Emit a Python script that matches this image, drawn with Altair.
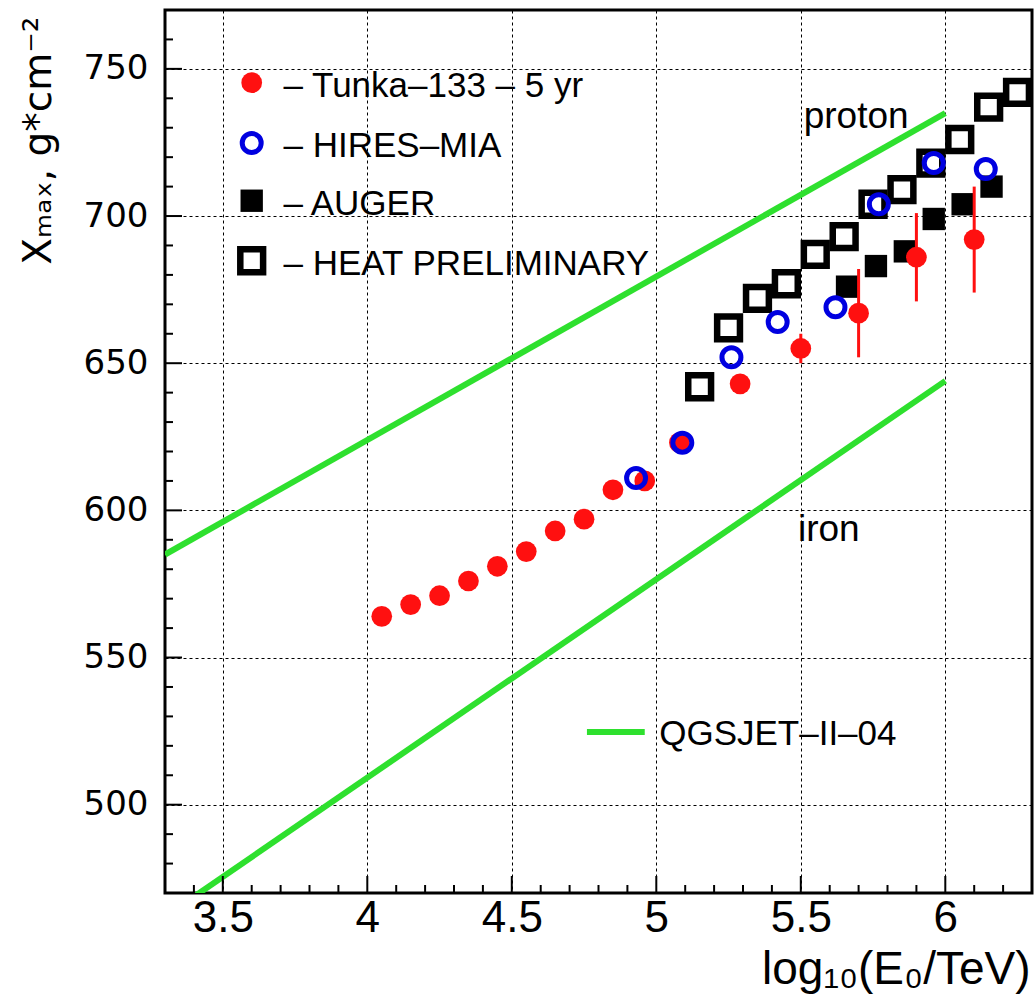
import altair as alt
import pandas as pd

# ---- data ----
tunka_x = [4.05, 4.15, 4.25, 4.35, 4.45, 4.55, 4.65, 4.75, 4.85, 4.96, 5.08, 5.29, 5.50, 5.70, 5.90, 6.10]
tunka_y = [564, 568, 571, 576, 581, 586, 593, 597, 607, 610, 623, 643, 655, 667, 686, 692]
tunka_err = [0, 0, 0, 0, 0, 0, 0, 0, 0, 0, 0, 3, 5, 15, 15, 18]

hires_x = [4.93, 5.09, 5.26, 5.42, 5.62, 5.77, 5.96, 6.14]
hires_y = [611, 623, 652, 664, 669, 704, 718, 716]

auger_x = [5.66, 5.76, 5.86, 5.96, 6.06, 6.16]
auger_y = [676, 683, 688, 699, 704, 710]

heat_x = [5.15, 5.25, 5.35, 5.45, 5.55, 5.65, 5.75, 5.85, 5.95, 6.05, 6.15, 6.25]
heat_y = [642, 662, 672, 677, 687, 693, 704, 709, 718, 726, 737, 742]

proton_x = [3.3, 6.0]
proton_y = [585, 735]
iron_x = [3.3, 6.0]
iron_y = [462, 644]

x_major = [3.5, 4.0, 4.5, 5.0, 5.5, 6.0]
x_minor = [3.4, 3.6, 3.7, 3.8, 3.9, 4.1, 4.2, 4.3, 4.4, 4.6, 4.7, 4.8, 4.9,
           5.1, 5.2, 5.3, 5.4, 5.6, 5.7, 5.8, 5.9, 6.1, 6.2]
y_major = [500, 550, 600, 650, 700, 750]
y_minor = [480, 490, 510, 520, 530, 540, 560, 570, 580, 590, 610, 620, 630, 640,
           660, 670, 680, 690, 710, 720, 730, 740, 760]

legend_labels = ["– Tunka–133 – 5 yr", "– HIRES–MIA", "– AUGER", "– HEAT PRELIMINARY"]

XDOM = [3.3, 6.3]
YDOM = [470, 770]
W, H = 867, 883
RED = "#ff1010"
BLUE = "#0000e0"
GREEN = "#2ee02e"
FONT = "Liberation Sans"

xs = alt.Scale(domain=XDOM, nice=False, zero=False)
ys = alt.Scale(domain=YDOM, nice=False, zero=False)

XAX = alt.Axis(
    values=x_major, format=".1~f", grid=True, gridDash=[3, 3], gridColor="black", gridWidth=1,
    gridOpacity=1, domain=False, ticks=False, tickSize=0, labelFont=FONT, labelFontSize=44,
    labelColor="black", labelPadding=3, labelFlush=False,
    title="log₁₀(E₀/TeV)", titleFont=FONT, titleFontSize=46, titleFontWeight="normal",
    titleColor="black", titleAnchor="end", titleAlign="right", titleX=W - 2, titleY=90,
    titleBaseline="alphabetic")
YAX = alt.Axis(
    values=y_major, grid=True, gridDash=[3, 3], gridColor="black", gridWidth=1, gridOpacity=1,
    domain=False, ticks=False, tickSize=0, labelFont="DejaVu Sans", labelFontSize=34,
    labelColor="black", labelPadding=17, labelFlush=False,
    title="Xₘₐₓ, g*cm⁻²", titleFont="DejaVu Sans", titleFontSize=39, titleFontWeight="normal",
    titleColor="black", titleAngle=270, titleAlign="right", titleBaseline="middle",
    titleX=-127, titleY=6)


def X(field="x"):
    return alt.X(f"{field}:Q", scale=xs, axis=XAX)


def Y(field="y"):
    return alt.Y(f"{field}:Q", scale=ys, axis=YAX)


# inward tick marks
xmaj = alt.Chart(pd.DataFrame({"x": x_major})).mark_rule(color="black", strokeWidth=2).encode(
    x=X(), y=alt.value(H), y2=alt.value(H - 17))
xmin = alt.Chart(pd.DataFrame({"x": x_minor})).mark_rule(color="black", strokeWidth=2).encode(
    x=X(), y=alt.value(H), y2=alt.value(H - 8))
ymaj = alt.Chart(pd.DataFrame({"y": y_major})).mark_rule(color="black", strokeWidth=2).encode(
    y=Y(), x=alt.value(0), x2=alt.value(17))
ymin = alt.Chart(pd.DataFrame({"y": y_minor})).mark_rule(color="black", strokeWidth=2).encode(
    y=Y(), x=alt.value(0), x2=alt.value(8))

# model lines
proton = alt.Chart(pd.DataFrame({"x": proton_x, "y": proton_y})).mark_line(
    color=GREEN, strokeWidth=6, clip=True).encode(x=X(), y=Y())
iron = alt.Chart(pd.DataFrame({"x": iron_x, "y": iron_y})).mark_line(
    color=GREEN, strokeWidth=6, clip=True).encode(x=X(), y=Y())

# data
tdf = pd.DataFrame({"x": tunka_x, "y": tunka_y, "err": tunka_err})
tdf["lo"] = tdf["y"] - tdf["err"]
tdf["hi"] = tdf["y"] + tdf["err"]
tunka_err_l = alt.Chart(tdf).mark_rule(color=RED, strokeWidth=3).encode(
    x=X(), y=Y("lo"), y2="hi:Q")
tunka_pts = alt.Chart(tdf).mark_point(shape="circle", filled=True, color=RED, size=430, opacity=1).encode(
    x=X(), y=Y())
heat_pts = alt.Chart(pd.DataFrame({"x": heat_x, "y": heat_y})).mark_point(
    shape="square", filled=False, color="black", size=520, strokeWidth=6.5, opacity=1).encode(x=X(), y=Y())
auger_pts = alt.Chart(pd.DataFrame({"x": auger_x, "y": auger_y})).mark_point(
    shape="square", filled=True, color="black", size=500, opacity=1).encode(x=X(), y=Y())
hires_pts = alt.Chart(pd.DataFrame({"x": hires_x, "y": hires_y})).mark_point(
    shape="circle", filled=False, color=BLUE, size=360, strokeWidth=5, opacity=1).encode(x=X(), y=Y())

# legend
leg_y = [745.3, 724.8, 705.2, 684.8]
leg_red = alt.Chart(pd.DataFrame({"x": [3.6], "y": [leg_y[0]]})).mark_point(
    shape="circle", filled=True, color=RED, size=430, opacity=1).encode(x=X(), y=Y())
leg_blue = alt.Chart(pd.DataFrame({"x": [3.6], "y": [leg_y[1]]})).mark_point(
    shape="circle", filled=False, color=BLUE, size=360, strokeWidth=5, opacity=1).encode(x=X(), y=Y())
leg_aug = alt.Chart(pd.DataFrame({"x": [3.6], "y": [leg_y[2]]})).mark_point(
    shape="square", filled=True, color="black", size=500, opacity=1).encode(x=X(), y=Y())
leg_heat = alt.Chart(pd.DataFrame({"x": [3.6], "y": [leg_y[3]]})).mark_point(
    shape="square", filled=False, color="black", size=520, strokeWidth=6.5, opacity=1).encode(x=X(), y=Y())
leg_text = alt.Chart(pd.DataFrame({"x": [3.71] * 4, "y": leg_y, "t": legend_labels})).mark_text(
    align="left", baseline="middle", font=FONT, fontSize=35, color="black", dy=3).encode(
    x=X(), y=Y(), text="t:N")

qgs_line = alt.Chart(pd.DataFrame({"x": [4.76, 4.96], "y": [524.7, 524.7]})).mark_line(
    color=GREEN, strokeWidth=6).encode(x=X(), y=Y())
qgs_text = alt.Chart(pd.DataFrame({"x": [5.01], "y": [524.7], "t": ["QGSJET–II–04"]})).mark_text(
    align="left", baseline="middle", font=FONT, fontSize=35, color="black", dy=2).encode(
    x=X(), y=Y(), text="t:N")

labels = alt.Chart(pd.DataFrame({"x": [5.51, 5.49], "y": [730, 589.5], "t": ["proton", "iron"]})).mark_text(
    align="left", baseline="alphabetic", font=FONT, fontSize=37, color="black").encode(
    x=X(), y=Y(), text="t:N")

chart = alt.layer(
    proton, iron, xmaj, xmin, ymaj, ymin,
    heat_pts, auger_pts, tunka_err_l, tunka_pts, hires_pts,
    leg_red, leg_blue, leg_aug, leg_heat, leg_text, qgs_line, qgs_text, labels,
).properties(
    width=W, height=H,
    autosize=alt.AutoSizeParams(type="none"),
    padding={"left": 165, "top": 10, "right": 4, "bottom": 113},
    background="white",
).configure_view(stroke="black", strokeWidth=3)

chart.save("out.html", embed_options={"renderer": "svg", "actions": False})
